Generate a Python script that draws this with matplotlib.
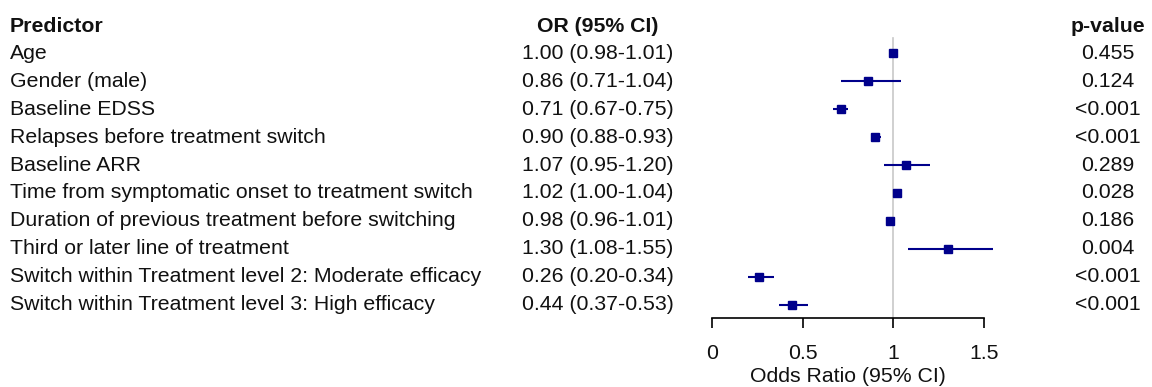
import matplotlib
matplotlib.use("Agg")
import matplotlib.pyplot as plt
import matplotlib.transforms as mtransforms

predictors = [
    "Age",
    "Gender (male)",
    "Baseline EDSS",
    "Relapses before treatment switch",
    "Baseline ARR",
    "Time from symptomatic onset to treatment switch",
    "Duration of previous treatment before switching",
    "Third or later line of treatment",
    "Switch within Treatment level 2: Moderate efficacy",
    "Switch within Treatment level 3: High efficacy",
]
odds_ratio = [1.00, 0.86, 0.71, 0.90, 1.07, 1.02, 0.98, 1.30, 0.26, 0.44]
ci_low = [0.98, 0.71, 0.67, 0.88, 0.95, 1.00, 0.96, 1.08, 0.20, 0.37]
ci_high = [1.01, 1.04, 0.75, 0.93, 1.20, 1.04, 1.01, 1.55, 0.34, 0.53]
p_values = ["0.455", "0.124", "<0.001", "<0.001", "0.289", "0.028", "0.186",
            "0.004", "<0.001", "<0.001"]
x_ticks = [0, 0.5, 1, 1.5]
x_tick_labels = ["0", "0.5", "1", "1.5"]

plt.rcParams['font.family'] = ['Liberation Sans', 'DejaVu Sans']

W, H = 1152, 387
fig = plt.figure(figsize=(W / 100, H / 100), dpi=100)
ax = fig.add_axes([0, 0, 1, 1])

# pixel mapping
x0_px, x15_px = 712, 984
ppu = (x15_px - x0_px) / 1.5
ax.set_xlim(-x0_px / ppu, (W - x0_px) / ppu)
row0_px, row_step = 53.5, 27.9
ax.set_ylim((H - row0_px) / row_step, -row0_px / row_step)

def frac(px):
    return px / W

trans = mtransforms.blended_transform_factory(ax.transAxes, ax.transData)
fs = 15.3
color = "#00008B"
text_color = "#111111"

n = len(predictors)
rows = list(range(n))

hdr = -0.97
# headers
ax.text(frac(10), hdr, "Predictor", transform=trans, ha="left", va="center",
        fontsize=fs, fontweight="bold", color=text_color)
ax.text(frac(598), hdr, "OR (95% CI)", transform=trans, ha="center", va="center",
        fontsize=fs, fontweight="bold", color=text_color)
ax.text(frac(1108), hdr, "p-value", transform=trans, ha="center", va="center",
        fontsize=fs, fontweight="bold", color=text_color)

for i in rows:
    ax.text(frac(10), i, predictors[i], transform=trans, ha="left", va="center",
            fontsize=fs, color=text_color)
    ax.text(frac(598), i, f"{odds_ratio[i]:.2f} ({ci_low[i]:.2f}-{ci_high[i]:.2f})",
            transform=trans, ha="center", va="center", fontsize=fs, color=text_color)
    ax.text(frac(1108), i, p_values[i], transform=trans, ha="center", va="center",
            fontsize=fs, color=text_color)

# reference line
axis_row = (318 - row0_px) / row_step
ax.plot([1, 1], [(38 - row0_px) / row_step, axis_row], color="#c8c8c8", lw=1.2, zorder=1)

# CIs and points
ax.hlines(rows, ci_low, ci_high, color=color, lw=1.5, zorder=2)
ax.plot(odds_ratio, rows, "s", color=color, ms=5.3, zorder=3)

# axis
for s in ["top", "left", "right"]:
    ax.spines[s].set_visible(False)
ax.spines["bottom"].set_position(("data", axis_row))
ax.spines["bottom"].set_bounds(0, 1.5)
ax.spines["bottom"].set_linewidth(1.2)
ax.set_xticks(x_ticks)
ax.set_xticklabels(x_tick_labels)
ax.tick_params(axis="x", direction="out", length=7, width=1.2, pad=12, labelsize=fs,
               labelcolor=text_color)
ax.set_yticks([])
ax.patch.set_alpha(0)

ax.text(0.75, (377 - row0_px) / row_step, "Odds Ratio (95% CI)", ha="center", va="center",
        fontsize=fs, color=text_color)

fig.savefig("out.png", dpi=100)
